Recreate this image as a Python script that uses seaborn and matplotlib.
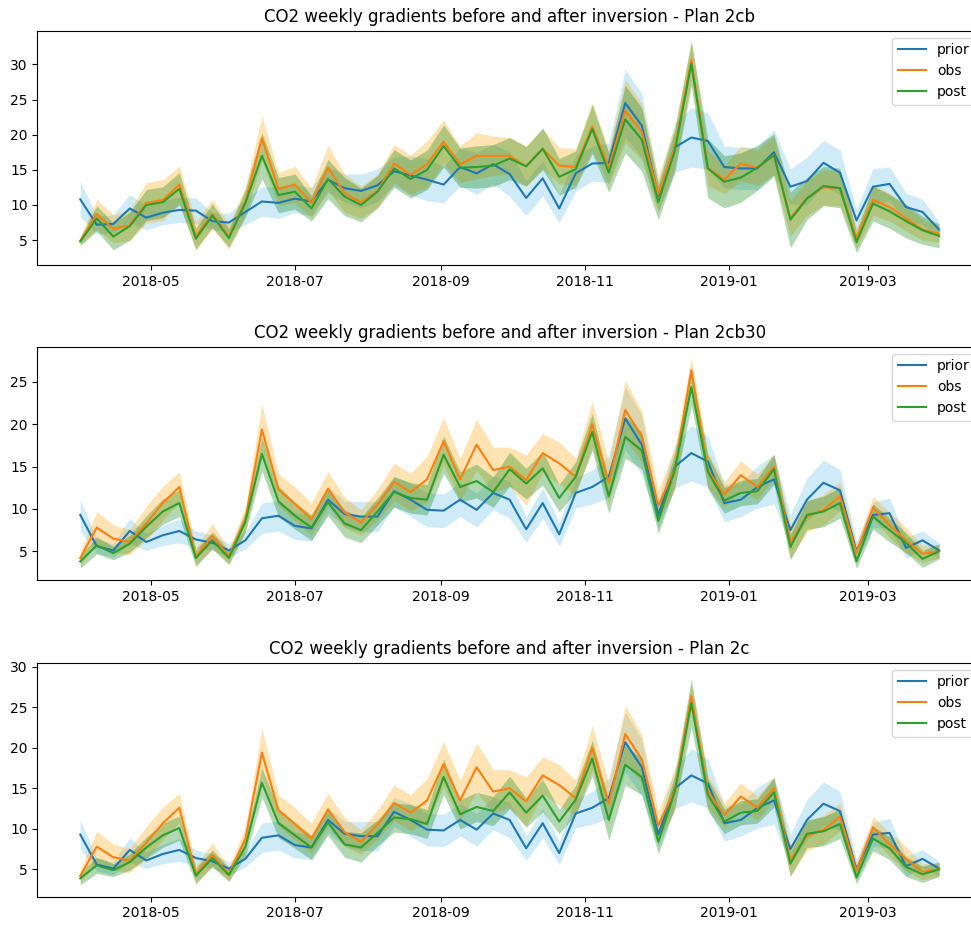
import numpy as np
import pandas as pd
import matplotlib
matplotlib.use("Agg")
import matplotlib.pyplot as plt
import seaborn as sns

dates = pd.date_range("2018-04-01", periods=53, freq="7D")

titles = ["CO2 weekly gradients before and after inversion - Plan 2cb",
          "CO2 weekly gradients before and after inversion - Plan 2cb30",
          "CO2 weekly gradients before and after inversion - Plan 2c"]

# ---- Plan 2cb ----
prior1 = [10.8, 7.2, 7.3, 9.5, 8.2, 8.9, 9.3, 9.2, 7.7, 7.5,
          9.0, 10.5, 10.3, 10.9, 10.5, 13.6, 12.4, 12.0, 12.8, 14.8,
          14.2, 13.6, 12.9, 15.4, 14.5, 15.8, 14.4, 11.0, 13.8, 9.5,
          14.5, 15.9, 16.0, 24.5, 21.3, 11.3, 18.2, 19.6, 19.1, 15.4,
          15.2, 15.2, 17.5, 12.6, 13.4, 16.0, 14.6, 7.8, 12.6, 13.0,
          9.7, 9.0, 6.5]
obs1 = [4.9, 8.7, 6.6, 7.1, 10.3, 10.7, 12.9, 5.6, 8.7, 5.5,
        10.5, 19.5, 12.3, 12.9, 10.3, 15.3, 11.7, 10.4, 12.0, 15.9,
        14.3, 15.8, 19.0, 15.8, 17.0, 17.0, 17.0, 15.5, 18.0, 15.6,
        15.4, 21.2, 15.3, 23.4, 20.4, 11.5, 18.2, 30.6, 15.3, 13.6,
        15.9, 15.3, 17.1, 8.1, 11.0, 12.5, 12.4, 5.3, 10.7, 9.7,
        8.1, 6.5, 5.9]
post1 = [4.8, 8.1, 5.5, 7.0, 10.0, 10.4, 12.3, 5.2, 8.5, 5.3,
         10.3, 17.0, 11.4, 11.9, 9.5, 13.7, 11.2, 10.0, 11.9, 15.2,
         13.7, 15.0, 18.4, 15.3, 15.4, 15.6, 16.6, 15.5, 18.0, 14.0,
         15.1, 20.8, 14.6, 22.2, 19.3, 10.4, 17.7, 30.1, 15.2, 13.3,
         13.9, 15.3, 17.1, 7.9, 10.9, 12.7, 12.4, 4.7, 10.2, 9.1,
         7.7, 6.4, 5.6]
prior1_err = [2.5, 1.3, 1.3, 2.0, 1.7, 1.7, 1.8, 1.8, 1.2, 1.3,
              1.8, 2.1, 2.2, 2.0, 2.0, 1.8, 2.0, 2.4, 2.3, 2.0,
              2.8, 3.0, 2.6, 2.7, 3.0, 2.8, 3.2, 2.5, 2.5, 2.0,
              2.5, 2.5, 2.8, 4.8, 4.5, 2.2, 3.5, 4.2, 4.0, 3.0,
              3.0, 3.0, 3.2, 2.5, 3.4, 3.2, 3.2, 1.6, 2.6, 2.4,
              2.0, 1.8, 1.1]
obs1_err = [0.6, 2.1, 2.0, 2.2, 2.9, 2.9, 2.6, 2.0, 2.1, 1.8,
            2.0, 3.2, 2.3, 2.6, 2.1, 3.2, 2.7, 2.3, 2.4, 2.7,
            2.8, 3.3, 3.1, 2.6, 3.3, 2.8, 2.6, 2.9, 2.8, 2.6,
            2.6, 3.4, 2.5, 4.5, 4.0, 2.5, 3.0, 2.8, 2.5, 2.0,
            2.5, 2.5, 2.8, 2.5, 2.5, 2.5, 2.5, 1.5, 2.2, 2.0,
            1.8, 1.5, 1.2]
post1_err = [0.6, 1.8, 1.9, 2.0, 2.2, 2.2, 2.3, 1.5, 1.7, 1.3,
             2.0, 3.3, 2.5, 2.5, 1.8, 2.8, 2.7, 2.4, 2.3, 2.7,
             2.7, 2.8, 3.0, 2.8, 3.0, 3.0, 3.0, 2.8, 3.0, 2.6,
             2.6, 3.5, 2.8, 4.8, 4.5, 2.5, 3.0, 3.2, 4.2, 3.7,
             3.5, 3.2, 3.0, 4.0, 3.0, 2.8, 2.8, 1.5, 2.5, 2.4,
             2.4, 2.0, 1.7]

# ---- Plan 2cb30 / 2c (shared prior and obs) ----
prior2 = [9.3, 5.6, 5.1, 7.4, 6.1, 6.9, 7.4, 6.4, 6.0, 5.1,
          6.3, 8.9, 9.2, 8.0, 7.7, 11.1, 9.4, 9.1, 9.1, 12.1,
          11.1, 9.9, 9.8, 11.1, 9.9, 11.9, 11.1, 7.6, 10.7, 7.0,
          11.9, 12.6, 13.8, 20.7, 17.6, 9.3, 15.0, 16.6, 15.6, 10.7,
          11.1, 12.6, 13.5, 7.5, 11.1, 13.1, 12.2, 5.0, 9.3, 9.5,
          5.4, 6.3, 5.1]
obs2 = [4.2, 7.8, 6.5, 6.1, 8.3, 10.7, 12.6, 4.4, 6.8, 4.4,
        8.8, 19.4, 12.3, 10.6, 8.8, 12.4, 9.6, 8.4, 10.5, 13.2,
        12.0, 13.5, 18.0, 13.5, 17.6, 14.6, 15.0, 13.4, 16.6, 15.4,
        13.8, 20.0, 13.1, 21.7, 18.6, 10.4, 14.8, 26.4, 14.6, 11.7,
        14.0, 12.6, 15.0, 6.1, 9.1, 9.9, 11.5, 4.8, 10.2, 8.1,
        6.3, 4.7, 5.0]
post2 = [3.8, 5.7, 4.8, 5.9, 7.9, 9.7, 10.7, 4.2, 6.3, 4.2,
         8.5, 16.5, 10.9, 9.2, 7.8, 10.8, 8.3, 7.5, 9.7, 12.0,
         11.3, 11.1, 16.4, 12.6, 13.3, 12.0, 14.7, 13.0, 14.8, 11.3,
         13.8, 19.1, 11.5, 18.5, 16.9, 8.6, 14.6, 24.4, 14.4, 11.0,
         11.9, 12.1, 14.7, 5.5, 9.3, 9.7, 10.7, 3.8, 9.1, 7.5,
         6.0, 4.1, 5.0]
post3 = [3.9, 5.5, 4.9, 5.9, 7.7, 9.2, 10.1, 4.2, 6.4, 4.3,
         7.8, 15.7, 10.7, 9.2, 7.7, 10.8, 8.1, 7.7, 9.5, 11.4,
         11.2, 10.6, 16.4, 11.8, 12.7, 12.2, 14.5, 12.0, 14.1, 10.9,
         13.6, 18.7, 11.1, 17.9, 16.4, 8.4, 14.6, 25.5, 14.2, 10.9,
         12.0, 12.2, 14.5, 5.7, 9.4, 9.7, 10.6, 4.0, 8.8, 7.6,
         5.3, 4.4, 5.0]
prior2_err = [1.8, 0.8, 0.8, 1.5, 1.0, 1.2, 1.4, 1.0, 0.9, 0.8,
              1.0, 1.8, 1.8, 1.6, 1.5, 1.5, 1.5, 1.8, 1.8, 1.8,
              2.0, 2.0, 2.0, 2.0, 2.0, 2.0, 2.2, 1.5, 1.8, 1.4,
              1.8, 2.0, 2.5, 3.7, 3.5, 1.5, 2.5, 3.3, 3.0, 2.2,
              2.0, 2.5, 2.9, 1.8, 2.5, 2.7, 2.4, 1.2, 1.5, 1.8,
              1.2, 1.1, 0.9]
obs2_err = [0.8, 1.9, 1.6, 1.5, 2.0, 2.0, 1.8, 1.0, 1.5, 0.8,
            1.5, 3.0, 1.9, 2.0, 1.9, 2.0, 1.8, 1.5, 1.8, 2.2,
            2.2, 2.7, 2.8, 2.5, 3.0, 2.7, 2.3, 3.0, 2.3, 2.5,
            2.2, 2.7, 2.5, 3.5, 3.0, 1.8, 2.5, 1.5, 2.0, 1.5,
            1.7, 1.5, 1.4, 2.0, 1.8, 1.8, 1.7, 1.0, 1.3, 1.5,
            1.5, 1.0, 0.8]
post2_err = [0.8, 1.0, 0.8, 1.0, 1.3, 1.5, 1.6, 1.0, 1.0, 0.8,
             1.2, 2.0, 1.8, 1.6, 1.5, 1.6, 1.6, 1.5, 1.6, 1.8,
             1.8, 1.8, 2.2, 1.8, 2.0, 1.8, 2.0, 1.8, 2.0, 1.6,
             1.8, 2.2, 2.0, 2.5, 2.2, 1.5, 2.0, 2.2, 2.0, 1.5,
             1.5, 1.5, 1.8, 1.5, 1.7, 1.8, 1.8, 0.8, 1.5, 1.4,
             1.2, 1.0, 0.9]
post3_err = [0.8, 1.0, 0.8, 1.0, 1.3, 1.5, 1.5, 1.0, 1.0, 0.8,
             1.2, 1.8, 1.8, 1.6, 1.5, 1.6, 1.6, 1.8, 1.6, 1.8,
             1.8, 1.8, 2.2, 1.8, 1.8, 1.8, 2.0, 1.8, 2.0, 1.5,
             1.8, 2.2, 2.5, 2.5, 2.2, 1.5, 2.0, 3.0, 2.0, 1.5,
             1.5, 1.5, 1.8, 1.5, 1.7, 1.8, 1.8, 0.8, 1.5, 1.4,
             1.2, 1.0, 0.9]

panels = [
    (prior1, prior1_err, obs1, obs1_err, post1, post1_err),
    (prior2, prior2_err, obs2, obs2_err, post2, post2_err),
    (prior2, prior2_err, obs2, obs2_err, post3, post3_err),
]
ylims = [(1.46, 34.8), (1.61, 29.17), (1.63, 30.5)]

W, H = 971, 925
fig = plt.figure(figsize=(W / 100, H / 100), dpi=100)
# axes boxes in pixels: (left, top, right, bottom)
boxes = [(37.3, 30.7, 982, 265), (37.3, 346.7, 982, 580), (37.3, 662.7, 982, 896.7)]

band_styles = [("skyblue", 0.4), ("orange", 0.3), ("green", 0.3)]
line_colors = ["tab:blue", "tab:orange", "tab:green"]
names = ["prior", "obs", "post"]

for k, (box, pdata) in enumerate(zip(boxes, panels)):
    l, t, r, b = box
    ax = fig.add_axes([l / W, (H - b) / H, (r - l) / W, (b - t) / H])
    series = [(pdata[0], pdata[1]), (pdata[2], pdata[3]), (pdata[4], pdata[5])]
    for (vals, err), (bc, ba) in zip(series, band_styles):
        v = np.asarray(vals)
        e = np.asarray(err)
        ax.fill_between(dates, v - e, v + e, color=bc, alpha=ba, linewidth=0)
    for (vals, err), lc, nm in zip(series, line_colors, names):
        sns.lineplot(x=dates, y=vals, ax=ax, color=lc, label=nm, linewidth=1.5)
    ax.set_ylim(*ylims[k])
    ax.set_xlabel("")
    ax.set_ylabel("")
    ax.set_title(titles[k], fontsize=12)
    ax.legend(loc="upper right")

fig.savefig("out.png", dpi=100)
